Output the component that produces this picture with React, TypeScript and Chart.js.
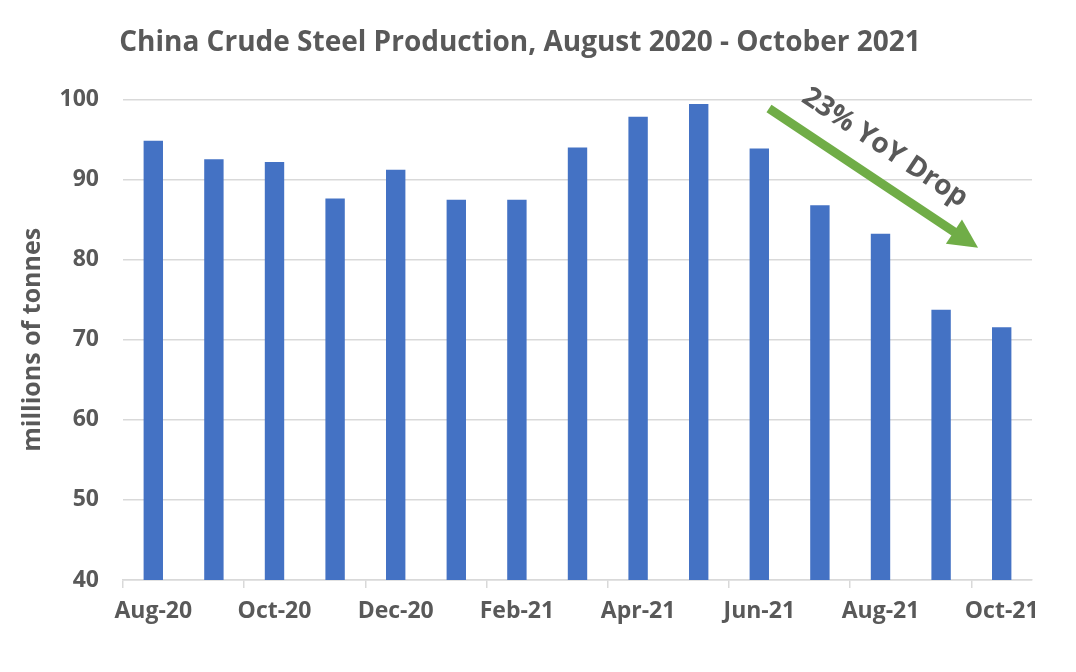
import React, { useEffect, useRef } from "react";
import { Chart, registerables } from "chart.js";

Chart.register(...registerables);

const categories = [
  "Aug-20", "Sep-20", "Oct-20", "Nov-20", "Dec-20", "Jan-21", "Feb-21", "Mar-21",
  "Apr-21", "May-21", "Jun-21", "Jul-21", "Aug-21", "Sep-21", "Oct-21",
];
const production = [
  94.85, 92.55, 92.2, 87.66, 91.25, 87.5, 87.5, 94.02,
  97.85, 99.45, 93.88, 86.79, 83.24, 73.75, 71.58,
];
const yTicks = [40, 50, 60, 70, 80, 90, 100];
const titleText = "China Crude Steel Production, August 2020 - October 2021";
const yAxisTitle = "millions of tonnes";
const annotationText = "23% YoY Drop";
// arrow start/end and label anchor, in data space (category index, value)
const arrowFrom = [10.16, 98.9];
const arrowTo = [13.61, 81.5];
const labelAt = [12.07, 94.0];

const GRAY = "#595959";
const FONT = "'Open Sans', 'DejaVu Sans', sans-serif";

const arrowPlugin = {
  id: "yoyArrow",
  afterDatasetsDraw(chart: any) {
    const { ctx, scales } = chart;
    const x = scales.x, y = scales.y;
    const x1 = x.getPixelForValue(arrowFrom[0]);
    const y1 = y.getPixelForValue(arrowFrom[1]);
    const x2 = x.getPixelForValue(arrowTo[0]);
    const y2 = y.getPixelForValue(arrowTo[1]);
    const ang = Math.atan2(y2 - y1, x2 - x1);
    const headLen = 29;
    const headW = 29;
    const bx = x2 - headLen * Math.cos(ang);
    const by = y2 - headLen * Math.sin(ang);
    ctx.save();
    ctx.strokeStyle = "#70AD47";
    ctx.fillStyle = "#70AD47";
    ctx.lineWidth = 9;
    ctx.lineCap = "butt";
    ctx.beginPath();
    ctx.moveTo(x1, y1);
    ctx.lineTo(bx + Math.cos(ang), by + Math.sin(ang));
    ctx.stroke();
    const px = -Math.sin(ang), py = Math.cos(ang);
    ctx.beginPath();
    ctx.moveTo(x2, y2);
    ctx.lineTo(bx + px * headW / 2, by + py * headW / 2);
    ctx.lineTo(bx - px * headW / 2, by - py * headW / 2);
    ctx.closePath();
    ctx.fill();
    // label
    const lx = x.getPixelForValue(labelAt[0]);
    const ly = y.getPixelForValue(labelAt[1]);
    ctx.translate(lx, ly);
    ctx.rotate(ang);
    ctx.font = `bold 28px ${FONT}`;
    ctx.fillStyle = GRAY;
    ctx.textAlign = "center";
    ctx.textBaseline = "middle";
    ctx.fillText(annotationText, 0, 0);
    ctx.restore();
  },
};

export default function App() {
  const ref = useRef<HTMLCanvasElement | null>(null);
  useEffect(() => {
    if (!ref.current) return;
    const chart = new Chart(ref.current, {
      type: "bar",
      data: {
        labels: categories,
        datasets: [
          {
            data: production,
            backgroundColor: "#4472C4",
            categoryPercentage: 1,
            barPercentage: 0.32,
          },
        ],
      },
      options: {
        animation: false,
        responsive: false,
        devicePixelRatio: 1,
        layout: { padding: { left: 8, right: 44, top: 0, bottom: 0 } },
        plugins: {
          legend: { display: false },
          tooltip: { enabled: false },
          title: {
            display: true,
            text: titleText,
            color: GRAY,
            font: { family: FONT, size: 28, weight: "bold" },
            padding: { top: 26, bottom: 40 },
          },
        },
        scales: {
          x: {
            offset: true,
            grid: {
              offset: true,
              drawOnChartArea: false,
              drawTicks: true,
              tickLength: 8,
              color: (c: any) => (c.index % 2 === 0 && c.index < 15 ? "#d9d9d9" : "rgba(0,0,0,0)"),
              lineWidth: 1.5,
            },
            border: { display: true, color: "#d9d9d9", width: 1.5 },
            ticks: {
              autoSkip: false,
              maxRotation: 0,
              color: GRAY,
              font: { family: FONT, size: 23, weight: "bold" },
              padding: 10,
              callback: (_v: any, i: number) => (i % 2 === 0 ? categories[i] : ""),
            },
            afterFit: (s: any) => {
              s.height = 92;
            },
          },
          y: {
            min: 40,
            max: 100,
            afterBuildTicks: (s: any) => {
              s.ticks = yTicks.map((v) => ({ value: v }));
            },
            grid: { color: "#d9d9d9", lineWidth: 1.5, drawTicks: false },
            border: { display: false },
            ticks: {
              color: GRAY,
              font: { family: FONT, size: 23, weight: "bold" },
              padding: 24,
            },
            title: {
              display: true,
              text: yAxisTitle,
              color: GRAY,
              font: { family: FONT, size: 25, weight: "bold" },
              padding: { top: 10, bottom: 0 },
            },
            afterFit: (s: any) => {
              s.width = 115;
            },
          },
        },
      },
      plugins: [arrowPlugin],
    });
    return () => chart.destroy();
  }, []);
  return (
    <div style={{ position: "fixed", left: 0, top: 0, width: 1076, height: 672, background: "#fff" }}>
      <canvas ref={ref} width={1076} height={672} style={{ width: 1076, height: 672 }} />
    </div>
  );
}
